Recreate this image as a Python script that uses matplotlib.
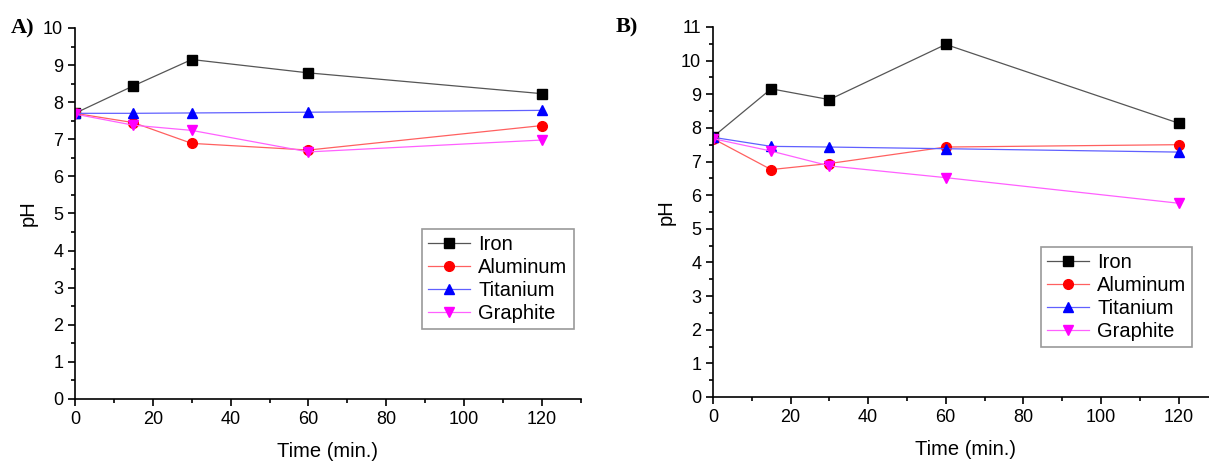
import matplotlib.pyplot as plt
from matplotlib.ticker import MultipleLocator

plt.rcParams['font.family'] = ['Liberation Sans', 'DejaVu Sans']

# Час відбору проб, хв
time_min = [0, 15, 30, 60, 120]

# Панель A
iron_a = [7.70, 8.44, 9.15, 8.79, 8.23]
aluminum_a = [7.70, 7.45, 6.89, 6.71, 7.37]
titanium_a = [7.70, 7.70, 7.71, 7.73, 7.78]
graphite_a = [7.68, 7.38, 7.24, 6.66, 6.98]

# Панель B
iron_b = [7.73, 9.16, 8.84, 10.48, 8.14]
aluminum_b = [7.68, 6.76, 6.94, 7.43, 7.50]
titanium_b = [7.72, 7.45, 7.43, 7.38, 7.28]
graphite_b = [7.68, 7.31, 6.87, 6.52, 5.76]

labels = ["Iron", "Aluminum", "Titanium", "Graphite"]
colors = ["black", "red", "blue", "magenta"]
line_colors = ["#555555", "#ff6060", "#6060ff", "#ff60ff"]
markers = ["s", "o", "^", "v"]

fig = plt.figure(figsize=(12.09, 4.62), dpi=100)
ax_a = fig.add_axes([0.062, 0.1364, 0.4185, 0.803])
ax_b = fig.add_axes([0.5897, 0.1407, 0.4172, 0.801])


def draw_panel(ax, series, ymax, legend_anchor):
    for values, label, color, lcolor, marker in zip(series, labels, colors,
                                                    line_colors, markers):
        ax.plot(time_min, values, color=lcolor, lw=0.9,
                marker=marker, markersize=7, markerfacecolor=color,
                markeredgecolor=color, label=label)
    ax.set_xlim(0, 130)
    ax.set_ylim(0, ymax)
    ax.xaxis.set_major_locator(MultipleLocator(20))
    ax.xaxis.set_minor_locator(MultipleLocator(10))
    ax.yaxis.set_major_locator(MultipleLocator(1))
    ax.yaxis.set_minor_locator(MultipleLocator(0.5))
    ax.tick_params(which='both', direction='out', labelsize=13, width=1.2)
    ax.tick_params(which='major', length=5)
    ax.tick_params(which='minor', length=3)
    for side in ['top', 'right']:
        ax.spines[side].set_visible(False)
    for side in ['left', 'bottom']:
        ax.spines[side].set_linewidth(1.2)
    ax.set_xlabel("Time (min.)", fontsize=14.5, labelpad=10)
    ax.set_ylabel("pH", fontsize=14.5)
    leg = ax.legend(loc='upper left', bbox_to_anchor=legend_anchor,
                    borderaxespad=0, fontsize=14.5, fancybox=False,
                    edgecolor='gray', handlelength=2.1, labelspacing=0.2,
                    handletextpad=0.4, borderpad=0.3)
    leg.get_frame().set_linewidth(1.2)


draw_panel(ax_a, [iron_a, aluminum_a, titanium_a, graphite_a], 10,
           (0.686, 0.458))
draw_panel(ax_b, [iron_b, aluminum_b, titanium_b, graphite_b], 11,
           (0.650, 0.405))

fig.text(11 / 1209, 1 - 28 / 462, "A)", fontsize=16, fontweight='bold',
         family='Liberation Serif', va='center')
fig.text(616 / 1209, 1 - 27 / 462, "B)", fontsize=16, fontweight='bold',
         family='Liberation Serif', va='center')

fig.savefig("out.png", dpi=100)
